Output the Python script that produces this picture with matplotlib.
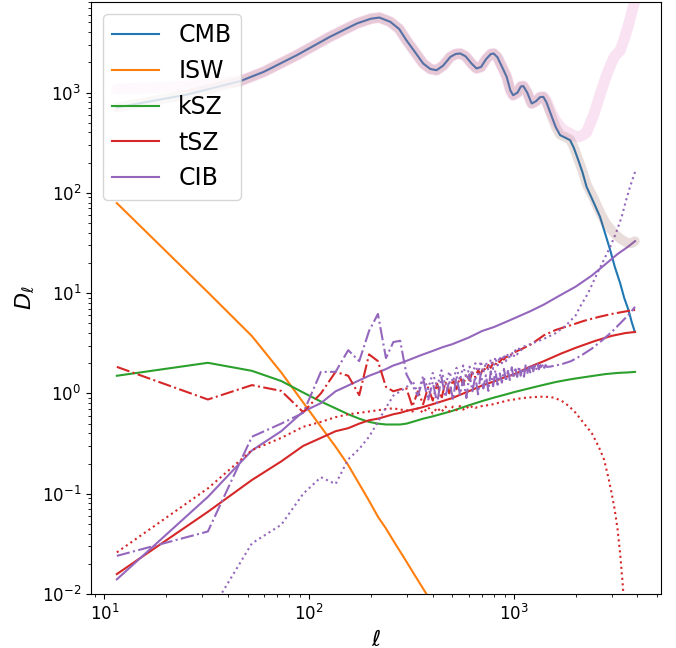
import numpy as np
import matplotlib
matplotlib.use("Agg")
import matplotlib.pyplot as plt

# multipole bin centres (delta ell = 20.5)
ell_bins = [11.5, 32, 52.5, 73, 93.5, 114, 134.5, 155, 175.5, 196, 216.5, 237, 257.5, 278,
            298.5, 319, 339.5, 360, 380.5, 401, 421.5, 442, 462.5, 483, 503.5, 524, 544.5,
            565, 585.5, 606, 626.5, 647, 667.5, 688, 708.5, 729, 749.5, 770, 790.5, 811,
            831.5, 852, 872.5, 893, 913.5, 934, 954.5, 975, 995.5, 1016, 1036.5, 1057,
            1077.5, 1098, 1118.5, 1139, 1159.5, 1180, 1200.5, 1221, 1241.5, 1262, 1282.5,
            1303, 1323.5, 1344, 1364.5, 1385, 1405.5, 1426, 1446.5]

## CMB and the two totals (thick bands)
ell_cmb = [11.5, 25, 46, 60, 87, 126, 171, 200, 220, 249, 275, 298, 330, 360, 390, 418,
           450, 489, 520, 547, 580, 620, 656, 690, 730, 770, 796, 830, 880, 920, 960, 990,
           1040, 1080, 1110, 1160, 1220, 1280, 1340, 1390, 1440, 1530, 1600, 1680, 1780,
           1880, 1960, 2060, 2160, 2260, 2450, 2630, 2800, 2950, 3100, 3300, 3450, 3620,
           3750, 3890]
cmb = [710, 950, 1300, 1610, 2360, 3590, 4890, 5450, 5600, 5070, 4300, 3330, 2500, 1950,
       1720, 1670, 1850, 2270, 2430, 2450, 2300, 1950, 1740, 1800, 2150, 2420, 2450, 2250,
       1750, 1440, 1050, 940, 1000, 1150, 1160, 1000, 778, 820, 900, 906, 800, 573, 450,
       376, 355, 335, 280, 212, 160, 115, 80, 57.7, 38, 26.8, 18.5, 12.5, 9.0, 6.8, 5.2, 4.1]
tot_noise = [1080, 1150, 1300, 1610, 2360, 3590, 4890, 5450, 5600, 5070, 4300, 3330, 2500,
             1950, 1720, 1670, 1850, 2270, 2430, 2450, 2300, 1950, 1740, 1800, 2150, 2420,
             2450, 2250, 1750, 1440, 1050, 940, 1000, 1150, 1160, 1000, 778, 820, 900, 910,
             830, 620, 520, 455, 410, 390, 370, 362, 375, 400, 600, 950, 1400, 1850, 2300,
             2630, 3400, 4700, 6200, 8200]
tot_fg = [710, 950, 1300, 1610, 2360, 3590, 4890, 5450, 5600, 5070, 4300, 3330, 2500, 1950,
          1720, 1670, 1850, 2270, 2430, 2450, 2300, 1950, 1740, 1800, 2150, 2420, 2450, 2250,
          1750, 1440, 1050, 940, 1000, 1150, 1160, 1000, 778, 820, 900, 906, 800, 575, 452,
          380, 360, 340, 285, 215, 165, 122, 88, 64, 50, 44, 39, 35, 33, 31.5, 31.5, 33]

## ISW
isw = [79, 10.2, 3.73, 1.62, 0.81, 0.466, 0.294, 0.193, 0.125, 0.085, 0.059, 0.045, 0.034,
       0.0265, 0.021, 0.0168, 0.0137, 0.0113, 0.0094, 0.0078]

## kSZ
ell_ksz = [11.5, 32, 52.5, 73, 93.5, 114, 134.5, 155, 175.5, 196, 216.5, 237, 257.5, 278,
           298.5, 319, 360, 400, 450, 500, 600, 700, 800, 900, 1000, 1200, 1400, 1600, 1800,
           2000, 2400, 2800, 3200, 3600, 3900]
ksz = [1.50, 2.02, 1.68, 1.33, 1.02, 0.83, 0.71, 0.62, 0.56, 0.52, 0.50, 0.49, 0.49, 0.49,
       0.50, 0.52, 0.56, 0.59, 0.63, 0.67, 0.76, 0.84, 0.91, 0.97, 1.03, 1.13, 1.22, 1.30,
       1.36, 1.41, 1.49, 1.56, 1.60, 1.62, 1.64]

## tSZ
ell_tsz = [11.5, 32, 52.5, 73, 93.5, 114, 134.5, 155, 175.5, 196, 216.5, 237, 257.5, 278,
           300, 350, 400, 500, 600, 700, 800, 900, 1000, 1200, 1400, 1700, 2000, 2500, 3000,
           3500, 3900]
tsz = [0.0158, 0.066, 0.137, 0.21, 0.30, 0.36, 0.42, 0.45, 0.50, 0.54, 0.56, 0.59, 0.62,
       0.64, 0.67, 0.72, 0.78, 0.90, 1.05, 1.2, 1.32, 1.45, 1.55, 1.85, 2.1, 2.5, 2.85, 3.35,
       3.75, 4.0, 4.1]
tsz_dd = [1.84, 0.87, 1.21, 1.06, 0.65, 1.0, 1.64, 1.50, 0.96, 2.45, 2.1, 1.16, 1.05, 1.10,
          1.12, 0.74, 1.05, 0.78, 1.15, 0.85, 1.25, 0.88, 1.30, 1.0, 1.38, 1.1, 1.45, 1.22,
          1.55, 1.35, 1.62, 1.45, 1.70, 1.55, 1.82, 1.68, 1.92, 1.80, 2.02, 1.92, 2.12, 2.05,
          2.22, 2.18, 2.32, 2.30, 2.42, 2.45, 2.55]
ell_tsz_dd_tail = [1100, 1200, 1400, 1600, 1900, 2200, 2600, 3000, 3400, 3700, 3900]
tsz_dd_tail = [2.8, 3.05, 3.8, 4.3, 4.8, 5.3, 5.8, 6.2, 6.5, 6.7, 6.8]
tsz_dot = [0.026, 0.113, 0.272, 0.36, 0.465, 0.52, 0.58, 0.62, 0.64, 0.66, 0.68, 0.70, 0.71,
           0.69, 0.68, 0.66, 0.71, 0.64, 0.73, 0.63, 0.72, 0.65, 0.74, 0.66, 0.74, 0.68, 0.75,
           0.69, 0.74, 0.70, 0.75, 0.72]
ell_tsz_dot_tail = [700, 770, 850, 930, 1000, 1100, 1250, 1400, 1550, 1700, 1850, 2000, 2200,
                    2400, 2600, 2750, 2900, 3000, 3100, 3200, 3300, 3400, 3450]
tsz_dot_tail = [0.75, 0.77, 0.81, 0.85, 0.87, 0.90, 0.92, 0.93, 0.91, 0.85, 0.75, 0.64, 0.50,
                0.40, 0.29, 0.22, 0.14, 0.10, 0.07, 0.045, 0.025, 0.012, 0.007]

## CIB
ell_cib = [11.5, 32, 52.5, 73, 93.5, 114, 134.5, 155, 175.5, 196, 216.5, 237, 257.5, 278,
           300, 350, 400, 450, 500, 600, 700, 800, 900, 1000, 1200, 1400, 1600, 1800, 2000,
           2400, 2800, 3200, 3600, 3900]
cib = [0.014, 0.093, 0.27, 0.42, 0.66, 0.80, 1.05, 1.2, 1.35, 1.5, 1.62, 1.75, 1.9, 2.0,
       2.12, 2.4, 2.65, 2.9, 3.1, 3.6, 4.2, 4.6, 5.1, 5.6, 6.6, 7.7, 9.0, 10.3, 11.6, 15.0,
       19.5, 24.5, 29.0, 33.0]
cib_dd = [0.024, 0.042, 0.37, 0.50, 0.64, 1.64, 1.64, 2.7, 2.1, 4.2, 6.2, 2.25, 3.25, 3.35,
          1.55, 1.20, 0.95, 1.40, 0.85, 1.30, 0.80, 1.45, 0.92, 1.35, 0.86, 1.50, 0.97, 1.38,
          0.90, 1.55, 1.05, 1.48, 0.98, 1.60, 1.12, 1.52, 1.06, 1.66, 1.18, 1.70, 1.22, 1.58,
          1.28, 1.76, 1.32, 1.68, 1.36, 1.82, 1.42, 1.74, 1.46, 1.86, 1.50, 1.78, 1.47, 1.90,
          1.56, 1.84, 1.62, 1.95, 1.66, 1.90, 1.72, 1.96, 1.74, 1.92, 1.76, 1.96, 1.80, 1.92,
          1.84]
ell_cib_dd_tail = [1500, 1700, 1900, 2100, 2400, 2700, 3000, 3300, 3600, 3900]
cib_dd_tail = [1.85, 1.95, 2.1, 2.35, 2.8, 3.4, 4.1, 5.0, 6.0, 7.3]
cib_dot = [0.006, 0.032, 0.049, 0.10, 0.146, 0.125, 0.22, 0.28, 0.37, 0.52, 0.72, 0.95, 1.05,
           1.15, 1.35, 1.00, 1.50, 1.10, 1.60, 1.15, 1.70, 1.20, 1.65, 1.30, 1.80, 1.35, 1.90,
           1.40, 1.85, 1.50, 2.00, 1.55, 2.10, 1.60, 2.05, 1.70, 2.20, 1.75, 2.30, 1.90, 2.35,
           2.00, 2.45, 2.10, 2.50, 2.20, 2.60, 2.30, 2.70, 2.45, 2.80, 2.60, 2.90]
ell_cib_dot_tail = [1200, 1400, 1600, 1800, 2000, 2100, 2300, 2500, 2700, 2950, 3150, 3350,
                    3500, 3680, 3900]
cib_dot_tail = [3.1, 3.5, 4.0, 4.8, 6.0, 7.3, 10.0, 14.5, 20.0, 29.0, 40.0, 57.0, 80.0,
                114.0, 162.0]

fig = plt.figure(figsize=(6.76, 6.48), dpi=100)
ax = fig.add_axes([91 / 676, 54 / 648, 570 / 676, 592 / 648])

ax.plot(ell_cmb, cmb, color="C0", label="CMB")
ax.plot(ell_bins[:len(isw)], isw, color="C1", label="ISW")
ax.plot(ell_ksz, ksz, color="C2", label="kSZ")
ax.plot(ell_tsz, tsz, color="C3", label="tSZ")
ax.plot(ell_cib, cib, color="C4", label="CIB")

ax.plot(ell_bins[:len(tsz_dd)] + ell_tsz_dd_tail, tsz_dd + tsz_dd_tail, color="C3", ls="-.")
ax.plot(ell_bins[:len(tsz_dot)] + ell_tsz_dot_tail, tsz_dot + tsz_dot_tail, color="C3", ls=":")
ax.plot(ell_bins[:len(cib_dd)] + ell_cib_dd_tail, cib_dd + cib_dd_tail, color="C4", ls="-.")
ax.plot(ell_bins[1:1 + len(cib_dot)] + ell_cib_dot_tail, cib_dot + cib_dot_tail,
        color="C4", ls=":")

# total signal (+ noise) as thick translucent bands
ax.plot(ell_cmb, tot_fg, color="C5", lw=7, alpha=0.2, solid_capstyle="round")
ax.plot(ell_cmb, tot_noise, color="C6", lw=8, alpha=0.2, solid_capstyle="round")

ax.set_xscale("log")
ax.set_yscale("log")
ax.set_xlim(8.6, 5220)
ax.set_ylim(1e-2, 8e3)
ax.tick_params(labelsize=12)
ax.set_xlabel(r"$\ell$", fontsize=16)
ax.set_ylabel(r"$D_\ell$", fontsize=16)
ax.legend(loc="upper left", fontsize=17)

fig.savefig("out.png", dpi=100)
